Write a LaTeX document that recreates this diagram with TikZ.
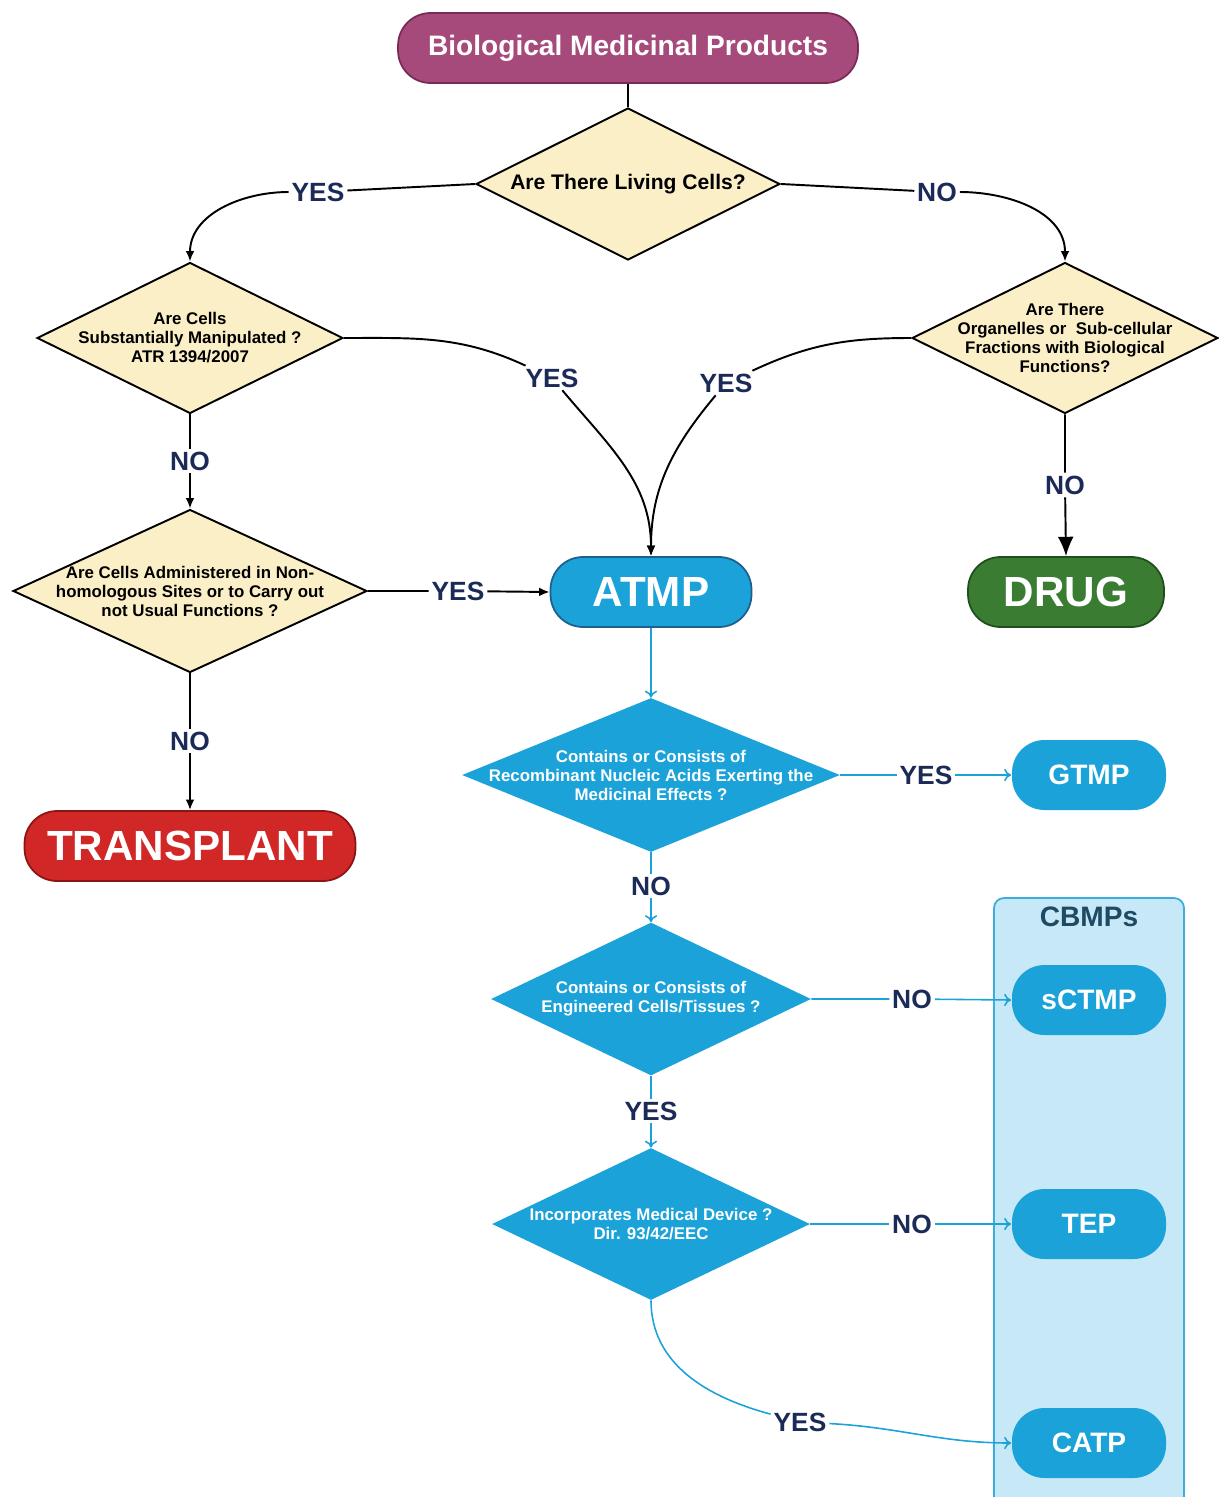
\documentclass[tikz,border=0pt]{standalone}
\usepackage{fontspec}
\setmainfont{Liberation Sans}
\usetikzlibrary{shapes.geometric,arrows.meta}
\definecolor{bmpfill}{HTML}{A64A7B}
\definecolor{bmpline}{HTML}{7A2A56}
\definecolor{yfill}{HTML}{FBEFC8}
\definecolor{bblue}{HTML}{1BA3D9}
\definecolor{bline}{HTML}{1D5F8F}
\definecolor{gfill}{HTML}{3A7D32}
\definecolor{gline}{HTML}{1F4F1C}
\definecolor{rfill}{HTML}{D12727}
\definecolor{rline}{HTML}{8A1515}
\definecolor{cbfill}{HTML}{C7E8F7}
\definecolor{cbline}{HTML}{3BAEE0}
\definecolor{cbtext}{HTML}{1E4B63}
\definecolor{navy}{HTML}{1B2A57}
\tikzset{>=latex,
  pill/.style={line width=1pt, rounded corners=0.65cm, minimum height=1.4cm,
    text=white, font=\bfseries\fontsize{24}{28}\selectfont},
  ydia/.style={diamond, draw=black, fill=yfill, line width=1.1pt, inner sep=0pt},
  bdia/.style={diamond, fill=bblue, inner sep=0pt},
  ytxt/.style={align=center, text=black, font=\bfseries\fontsize{9.6}{10.8}\selectfont},
  btxt/.style={align=center, text=white, font=\bfseries\fontsize{9.6}{10.8}\selectfont},
  lbl/.style={text=navy, inner sep=1.5pt, font=\bfseries\fontsize{15}{18}\selectfont},
  conn/.style={draw=black, line width=1.1pt, -{Latex[length=6pt,width=5pt]}},
  bconn/.style={draw=bblue, line width=0.9pt, -{To[length=4pt,width=7pt]}}
}
\begin{document}
\begin{tikzpicture}[x=0.02cm,y=-0.02cm]
  \useasboundingbox (0,0) rectangle (1218,1497);
  % CBMPs group
  \draw[draw=cbline, fill=cbfill, line width=1pt, rounded corners=0.2cm] (994,898) rectangle (1184,1530);
  \node[text=cbtext, font=\bfseries\fontsize{16}{19}\selectfont] (cbmps) at (1089,917) {CBMPs};
  % end points
  \node[pill, draw=bmpline, fill=bmpfill, minimum width=9.2cm, font=\bfseries\fontsize{16}{19}\selectfont] (bmp) at (628,48) {Biological Medicinal Products};
  \node[pill, draw=bline, fill=bblue, minimum width=4.02cm] (atmp) at (651,592) {ATMP};
  \node[pill, draw=gline, fill=gfill, minimum width=3.92cm] (drug) at (1066,592) {DRUG};
  \node[pill, draw=rline, fill=rfill, minimum width=6.62cm] (tp) at (190,846) {TRANSPLANT};
  \foreach\nm/\yy/\txt in {gtmp/775/GTMP, sctmp/1000/sCTMP, tep/1224/TEP, catp/1443/CATP}{
    \node[pill, fill=bblue, minimum width=3.08cm, font=\bfseries\fontsize{16}{19}\selectfont] (\nm) at (1089,\yy) {\txt};}
  % questions
  \node[ydia, minimum width=6.08cm, minimum height=3.04cm,
    label={[ytxt, font=\bfseries\fontsize{12}{14}\selectfont]center:Are There Living Cells?}] (q1) at (628,184) {};
  \node[ydia, minimum width=6.12cm, minimum height=3.02cm,
    label={[ytxt]center:Are Cells\\Substantially Manipulated ?\\ATR 1394/2007}] (q2) at (190,338) {};
  \node[ydia, minimum width=6.12cm, minimum height=3.02cm,
    label={[ytxt]center:Are There\\Organelles or~ Sub-cellular\\Fractions with Biological\\Functions?}] (q3) at (1065,338) {};
  \node[ydia, minimum width=7.08cm, minimum height=3.26cm,
    label={[ytxt]center:Are Cells Administered in Non-\\homologous Sites or to Carry out\\not Usual Functions ?}] (q4) at (190,591) {};
  \node[bdia, minimum width=7.56cm, minimum height=3.08cm,
    label={[btxt]center:Contains or Consists of\\Recombinant Nucleic Acids Exerting the\\Medicinal Effects ?}] (q5) at (651,775) {};
  \node[bdia, minimum width=6.4cm, minimum height=3.06cm,
    label={[btxt]center:Contains or Consists of\\Engineered Cells/Tissues ?}] (q6) at (651,999) {};
  \node[bdia, minimum width=6.36cm, minimum height=3.04cm,
    label={[btxt]center:Incorporates Medical Device ?\\Dir. 93/42/EEC}] (q7) at (651,1224) {};
  % answers
  \node[lbl] (q1yes) at (318,192) {YES};
  \node[lbl] (q1no) at (937,192) {NO};
  \node[lbl] (q2yes) at (552,378) {YES};
  \node[lbl] (q3yes) at (726,383) {YES};
  \node[lbl] (q2no) at (190,461) {NO};
  \node[lbl] (q4yes) at (458,591) {YES};
  \node[lbl] (q4no) at (190,741) {NO};
  \node[lbl] (q3no) at (1065,485) {NO};
  \node[lbl] (q5yes) at (926,775) {YES};
  \node[lbl] (q5no) at (651,886) {NO};
  \node[lbl] (q6no) at (912,999) {NO};
  \node[lbl] (q6yes) at (651,1111) {YES};
  \node[lbl] (q7no) at (912,1224) {NO};
  \node[lbl] (q7yes) at (800,1422) {YES};
  % black connectors
  \draw[line width=1.1pt] (bmp) -- (q1);
  \draw[conn] (q1.west) -- (q1yes) to[out=180,in=90] (q2.north);
  \draw[conn] (q1.east) -- (q1no) to[out=0,in=90] (q3.north);
  \draw[conn] (q2.east) to[out=0,in=155] (q2yes) to[out=-50,in=90] (atmp.north);
  \draw[conn] (q3.west) to[out=180,in=25] (q3yes) to[out=-130,in=90] (atmp.north);
  \draw[conn] (q2.south) -- (q2no) -- (q4.north);
  \draw[conn] (q4.east) -- (q4yes) -- (atmp.west);
  \draw[conn] (q4.south) -- (q4no) -- (tp.north);
  \draw[conn, -{Latex[length=11pt,width=9pt]}] (q3.south) -- (q3no) -- (drug.north);
  % blue connectors
  \draw[bconn] (atmp.south) -- (q5.north);
  \draw[bconn] (q5.east) -- (q5yes) -- (gtmp.west);
  \draw[bconn] (q5.south) -- (q5no) -- (q6.north);
  \draw[bconn] (q6.east) -- (q6no) -- (sctmp.west);
  \draw[bconn] (q6.south) -- (q6yes) -- (q7.north);
  \draw[bconn] (q7.east) -- (q7no) -- (tep.west);
  \draw[bconn] (q7.south) to[out=-90,in=165] (q7yes) to[out=-3,in=180] (catp.west);
\end{tikzpicture}
\end{document}
